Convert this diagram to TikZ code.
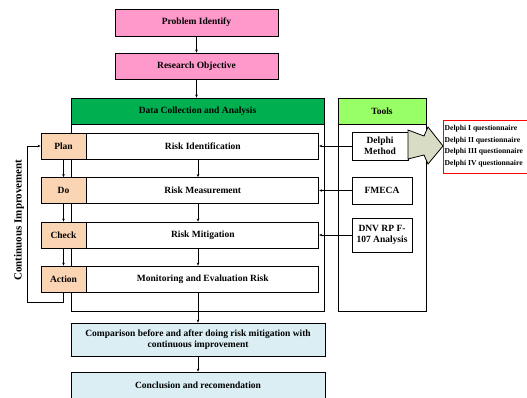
\documentclass[tikz,border=0pt]{standalone}
\usepackage{fontspec}
\setmainfont{Liberation Serif}
\usetikzlibrary{positioning,arrows.meta}

\definecolor{pinkbox}{HTML}{FF99CC}
\definecolor{greenhead}{HTML}{00B050}
\definecolor{toolhead}{HTML}{99FF66}
\definecolor{pdcabox}{HTML}{FBD4B4}
\definecolor{bluebox}{HTML}{DAEEF3}
\definecolor{bigarrow}{HTML}{D9DCC4}

\tikzset{
  stepbox/.style={draw, line width=0.8pt, inner sep=1pt, align=center,
    font=\bfseries\fontsize{9.5}{11}\selectfont},
  flow/.style={-{Stealth[length=3pt,width=2.6pt]}, line width=0.6pt},
}

\begin{document}
\begin{tikzpicture}[x=1pt, y=-1pt]
  \useasboundingbox (0,0) rectangle (527,398);
  \clip (0,0) rectangle (527,398);
  % top of the flow
  \node[stepbox, fill=pinkbox, minimum width=163pt, minimum height=27pt] (prob) at (196.5,22.5) {Problem Identify};
  \node[stepbox, fill=pinkbox, minimum width=163pt, minimum height=26pt] (obj) at (196.5,66) {Research Objective};
  % data collection frame
  \draw[line width=0.8pt] (71,98) rectangle (324,311);
  \node[stepbox, fill=greenhead, minimum width=253pt, minimum height=26pt] (dc) at (197.5,111) {Data Collection and Analysis};
  % tools frame
  \draw[line width=0.8pt] (338,98) rectangle (426,311);
  \node[stepbox, fill=toolhead, minimum width=88pt, minimum height=26pt] (tools) at (382,111) {Tools};
  % PDCA column
  \node[stepbox, fill=pdcabox, minimum width=45pt, minimum height=26pt] (plan) at (63.5,146) {Plan};
  \node[stepbox, fill=pdcabox, minimum width=45pt, minimum height=26pt] (do) at (63.5,190.5) {Do};
  \node[stepbox, fill=pdcabox, minimum width=45pt, minimum height=26pt] (check) at (63.5,235) {Check};
  \node[stepbox, fill=pdcabox, minimum width=45pt, minimum height=26pt] (act) at (63.5,279) {Action};
  % risk steps
  \node[stepbox, fill=white, minimum width=232pt, minimum height=26pt, anchor=west] (rid) at (plan.east) {Risk Identification};
  \node[stepbox, fill=white, minimum width=232pt, minimum height=26pt, anchor=west] (rme) at (do.east) {Risk Measurement};
  \node[stepbox, fill=white, minimum width=232pt, minimum height=26pt, anchor=west] (rmi) at (check.east) {Risk Mitigation};
  \node[stepbox, fill=white, minimum width=232pt, minimum height=26pt, anchor=west] (mon) at (act.east) {Monitoring and Evaluation Risk};
  % tools
  \node[stepbox, fill=white, minimum width=56pt, minimum height=28pt] (delphi) at (380,146) {Delphi\\Method};
  \node[stepbox, fill=white, minimum width=60pt, minimum height=27pt] (fmeca) at (382,190.5) {FMECA};
  \node[stepbox, fill=white, minimum width=60pt, minimum height=34pt] (dnv) at (382,235) {DNV RP F-\\107 Analysis};
  % big arrow and questionnaire list
  \draw[line width=0.8pt, fill=bigarrow] (408,130) -- (424,136) -- (428,127) -- (443,146) -- (428,164) -- (424,155) -- (408,159) -- cycle;
  \draw[red, line width=0.8pt] (443,120) rectangle (545,173);
  \node[anchor=west, align=left, inner sep=0pt, font=\bfseries\fontsize{7.6}{11.5}\selectfont] (quest) at (444.5,146)
    {Delphi I questionnaire\\Delphi II questionnaire\\Delphi III questionnaire\\Delphi IV questionnaire};
  % results
  \node[stepbox, fill=bluebox, minimum width=254pt, minimum height=33pt] (cmp) at (198,339.5)
    {Comparison before and after doing risk mitigation with\\continuous improvement};
  \node[stepbox, fill=bluebox, minimum width=254pt, minimum height=27pt] (conc) at (198,385.5) {Conclusion and recomendation};
  % loop label
  \node[rotate=90, font=\bfseries\fontsize{11}{12}\selectfont] (ci) at (19,220) {Continuous Improvement};
  % connectors
  \draw[flow] (prob) -- (obj);
  \draw[flow] (obj) -- (obj |- dc.north);
  \draw[flow] (plan) -- (do);
  \draw[flow] (do) -- (check);
  \draw[flow] (check) -- (act);
  \draw[flow] (rid.south -| cmp.north) -- (rme.north -| cmp.north);
  \draw[flow] (rme.south -| cmp.north) -- (rmi.north -| cmp.north);
  \draw[flow] (rmi.south -| cmp.north) -- (mon.north -| cmp.north);
  \draw[flow] (mon.south -| cmp.north) -- (cmp.north);
  \draw[flow] (cmp) -- (conc);
  \draw[flow] (delphi) -- (rid);
  \draw[flow] (fmeca) -- (rme);
  \draw[flow] (dnv) -- (rmi);
  \coordinate (loopbot) at (27,302);
  \draw[flow] (act.south) |- (loopbot) |- (plan.west);
\end{tikzpicture}
\end{document}
